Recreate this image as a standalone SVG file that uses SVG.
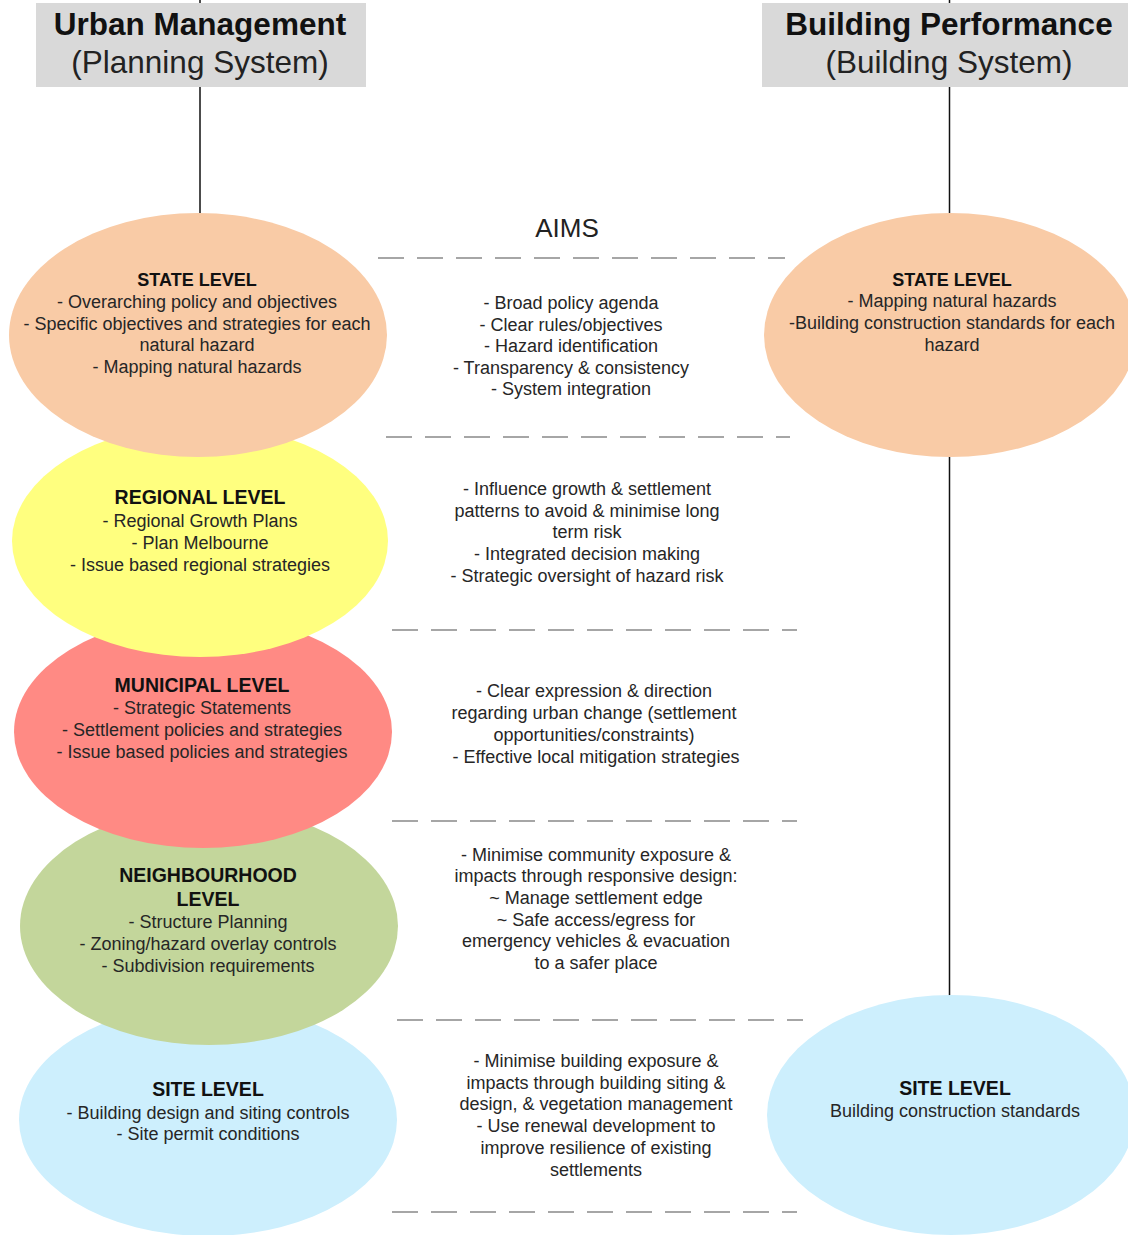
<svg xmlns="http://www.w3.org/2000/svg" width="1128" height="1235" viewBox="0 0 1128 1235">
<style>
text{font-family:"Liberation Sans",Arial,sans-serif;text-anchor:middle;fill:#262626}
.hb{font-size:31.5px;font-weight:bold;fill:#111}
.hn{font-size:31.5px;fill:#222}
.t{font-size:18px;font-weight:bold;fill:#111}
.t2{font-size:19.5px;font-weight:bold;fill:#111}
.b{font-size:18px}
.aims{font-size:26px;fill:#222}
.dash{stroke:#a6a6a6;stroke-width:2;stroke-dasharray:26 13;fill:none}
.conn{stroke:#111;stroke-width:1.5;fill:none}
.hdr{fill:#d9d9d9}
</style>
<rect width="1128" height="1235" fill="#fff"/>
<g id="connectors">
<line class="conn" x1="200" y1="0" x2="200" y2="213"/>
<line class="conn" x1="949.5" y1="0" x2="949.5" y2="213"/>
<line class="conn" x1="949.5" y1="456" x2="949.5" y2="996"/>
</g>
<g id="header-urban">
<rect class="hdr" x="36" y="3" width="330" height="84"/>
<text class="hb" x="200" y="35">Urban Management</text>
<text class="hn" x="200" y="73">(Planning System)</text>
</g>
<g id="header-building">
<rect class="hdr" x="762" y="3" width="370" height="84"/>
<text class="hb" x="949" y="35">Building Performance</text>
<text class="hn" x="949" y="73">(Building System)</text>
</g>
<g id="dividers">
<line class="dash" x1="378" y1="258" x2="785" y2="258"/>
<line class="dash" x1="386" y1="437" x2="790" y2="437"/>
<line class="dash" x1="392" y1="630" x2="797" y2="630"/>
<line class="dash" x1="392" y1="821" x2="797" y2="821"/>
<line class="dash" x1="397" y1="1020" x2="803" y2="1020"/>
<line class="dash" x1="392" y1="1212" x2="797" y2="1212"/>
</g>
<text class="aims" x="567" y="237">AIMS</text>
<g id="site-level">
<ellipse cx="208" cy="1120" rx="189" ry="116" fill="#cdeffd"/>
<text class="t2" x="208" y="1096">SITE LEVEL</text>
<text class="b" x="208" y="1119">- Building design and siting controls</text>
<text class="b" x="208" y="1140">- Site permit conditions</text>
</g>
<g id="neighbourhood-level">
<ellipse cx="209" cy="926" rx="189" ry="119" fill="#c3d69b"/>
<text class="t2" x="208" y="882">NEIGHBOURHOOD</text>
<text class="t2" x="208" y="906">LEVEL</text>
<text class="b" x="208" y="928">- Structure Planning</text>
<text class="b" x="208" y="950">- Zoning/hazard overlay controls</text>
<text class="b" x="208" y="972">- Subdivision requirements</text>
</g>
<g id="municipal-level">
<ellipse cx="203" cy="732" rx="189" ry="116" fill="#ff8a84"/>
<text class="t2" x="202" y="692">MUNICIPAL LEVEL</text>
<text class="b" x="202" y="714">- Strategic Statements</text>
<text class="b" x="202" y="736">- Settlement policies and strategies</text>
<text class="b" x="202" y="758">- Issue based policies and strategies</text>
</g>
<g id="regional-level">
<ellipse cx="200" cy="541" rx="188" ry="116" fill="#ffff7f"/>
<text class="t2" x="200" y="504">REGIONAL LEVEL</text>
<text class="b" x="200" y="527">- Regional Growth Plans</text>
<text class="b" x="200" y="549">- Plan Melbourne</text>
<text class="b" x="200" y="571">- Issue based regional strategies</text>
</g>
<g id="state-level">
<ellipse cx="198" cy="335" rx="189" ry="122" fill="#f9cba6"/>
<text class="t" x="197" y="286">STATE LEVEL</text>
<text class="b" x="197" y="308">- Overarching policy and objectives</text>
<text class="b" x="197" y="330">- Specific objectives and strategies for each</text>
<text class="b" x="197" y="351">natural hazard</text>
<text class="b" x="197" y="373">- Mapping natural hazards</text>
</g>
<g id="building-state-level">
<ellipse cx="950" cy="335" rx="186" ry="122" fill="#f9cba6"/>
<text class="t" x="952" y="286">STATE LEVEL</text>
<text class="b" x="952" y="307">- Mapping natural hazards</text>
<text class="b" x="952" y="329">-Building construction standards for each</text>
<text class="b" x="952" y="351">hazard</text>
</g>
<g id="building-site-level">
<ellipse cx="951" cy="1115" rx="184" ry="120" fill="#cdeffd"/>
<text class="t2" x="955" y="1095">SITE LEVEL</text>
<text class="b" x="955" y="1117">Building construction standards</text>
</g>
<g id="aims-state">
<text class="b" x="571" y="309">- Broad policy agenda</text>
<text class="b" x="571" y="331">- Clear rules/objectives</text>
<text class="b" x="571" y="352">- Hazard identification</text>
<text class="b" x="571" y="374">- Transparency &amp; consistency</text>
<text class="b" x="571" y="395">- System integration</text>
</g>
<g id="aims-regional">
<text class="b" x="587" y="495">- Influence growth &amp; settlement</text>
<text class="b" x="587" y="517">patterns to avoid &amp; minimise long</text>
<text class="b" x="587" y="538">term risk</text>
<text class="b" x="587" y="560">- Integrated decision making</text>
<text class="b" x="587" y="582">- Strategic oversight of hazard risk</text>
</g>
<g id="aims-municipal">
<text class="b" x="594" y="697">- Clear expression &amp; direction</text>
<text class="b" x="594" y="719">regarding urban change (settlement</text>
<text class="b" x="594" y="741">opportunities/constraints)</text>
<text class="b" x="596" y="763">- Effective local mitigation strategies</text>
</g>
<g id="aims-neighbourhood">
<text class="b" x="596" y="861">- Minimise community exposure &amp;</text>
<text class="b" x="596" y="882">impacts through responsive design:</text>
<text class="b" x="596" y="904">~ Manage settlement edge</text>
<text class="b" x="596" y="926">~ Safe access/egress for</text>
<text class="b" x="596" y="947">emergency vehicles &amp; evacuation</text>
<text class="b" x="596" y="969">to a safer place</text>
</g>
<g id="aims-site">
<text class="b" x="596" y="1067">- Minimise building exposure &amp;</text>
<text class="b" x="596" y="1089">impacts through building siting &amp;</text>
<text class="b" x="596" y="1110">design, &amp; vegetation management</text>
<text class="b" x="596" y="1132">- Use renewal development to</text>
<text class="b" x="596" y="1154">improve resilience of existing</text>
<text class="b" x="596" y="1176">settlements</text>
</g>
</svg>
